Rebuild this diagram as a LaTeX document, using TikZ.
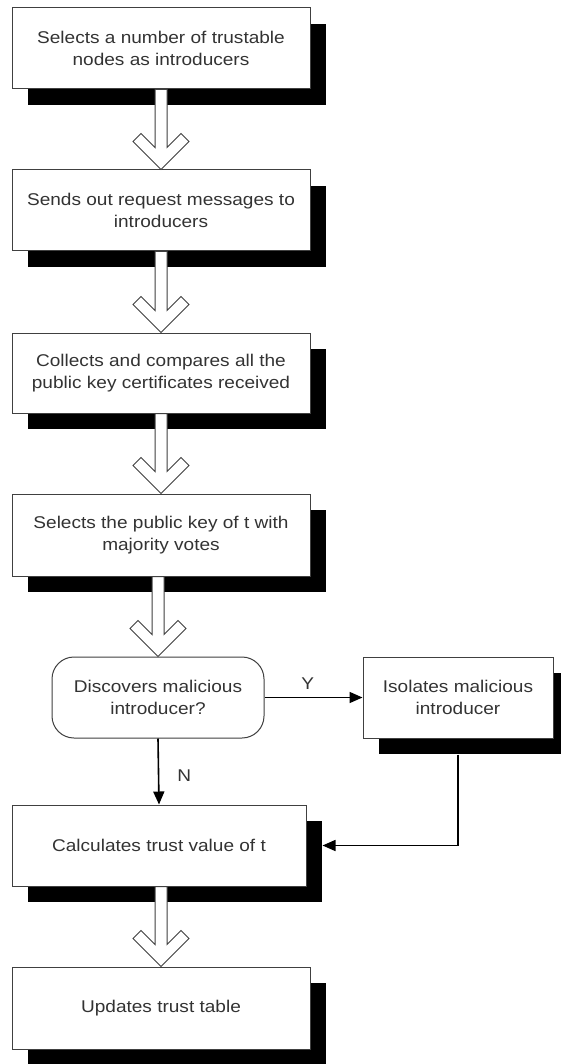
\documentclass[tikz,border=0pt]{standalone}
\usepackage{fontspec}
\setmainfont{Liberation Sans}[FakeStretch=1.12]
\usetikzlibrary{calc,shadows,arrows.meta}
\newcommand\hollowarrow[2]{%
  \path let \p1=(#1.south), \p2=(#2.north) in
    [harrow] (\x2-6pt,\y1) -- (\x2-6pt,\y2+22pt) -- (\x2-20pt,\y2+36pt) -- (\x2-28pt,\y2+28pt)
    -- (\x2,\y2) -- (\x2+28pt,\y2+28pt) -- (\x2+20pt,\y2+36pt) -- (\x2+6pt,\y2+22pt)
    -- (\x2+6pt,\y1) -- cycle;}
\begin{document}
\begin{tikzpicture}[x=1pt,y=1pt,
  every node/.style={font=\fontsize{17pt}{21.5pt}\selectfont, text=black!80},
  boxbase/.style={draw=black!75, line width=1pt, fill=white, align=center, inner sep=0pt},
  procbox/.style={boxbase, drop shadow={shadow xshift=16pt, shadow yshift=-16pt, opacity=1, fill=black}},
  decbox/.style={boxbase, rounded corners=22pt},
  harrow/.style={draw=black!75, line width=1pt, fill=white},
  flow/.style={draw=black, line width=1.6pt, -{Triangle[length=13pt,width=11pt]}},
  lbl/.style={inner sep=0pt}
]
\useasboundingbox (0,0) rectangle (561,-1064);
\fill[white] (0,0) rectangle (561,-1064);

\node[procbox, minimum width=298pt, minimum height=81pt] (b1) at (161,-48.5) {Selects a number of trustable\\nodes as introducers};
\node[procbox, minimum width=298pt, minimum height=81pt] (b2) at (161,-210.5) {Sends out request messages to\\introducers};
\node[procbox, minimum width=298pt, minimum height=80pt] (b3) at (161,-373) {Collects and compares all the\\public key certificates received};
\node[procbox, minimum width=298pt, minimum height=82pt] (b4) at (161,-535) {Selects the public key of t with\\majority votes};
\node[decbox, minimum width=212pt, minimum height=81pt] (d) at (158,-697.5) {Discovers malicious\\introducer?};
\node[procbox, minimum width=190pt, minimum height=81pt] (iso) at (458,-697.5) {Isolates malicious\\introducer};
\node[procbox, minimum width=294pt, minimum height=81pt] (b6) at (159,-845.5) {Calculates trust value of t};
\node[procbox, minimum width=298pt, minimum height=82pt] (b7) at (161,-1008) {Updates trust table};

\hollowarrow{b1}{b2}
\hollowarrow{b2}{b3}
\hollowarrow{b3}{b4}
\hollowarrow{b4}{d}
\hollowarrow{b6}{b7}

\draw[flow] (d.east) -- (iso.west) node[lbl, pos=0.44, above=7pt] (ylbl) {Y};
\draw[flow] (d.south) -- (b6.north) node[lbl, pos=0.56, right=18pt] (nlbl) {N};
\draw[flow] ([yshift=-16pt]iso.south) |- ([xshift=16pt]b6.east);
\end{tikzpicture}
\end{document}
